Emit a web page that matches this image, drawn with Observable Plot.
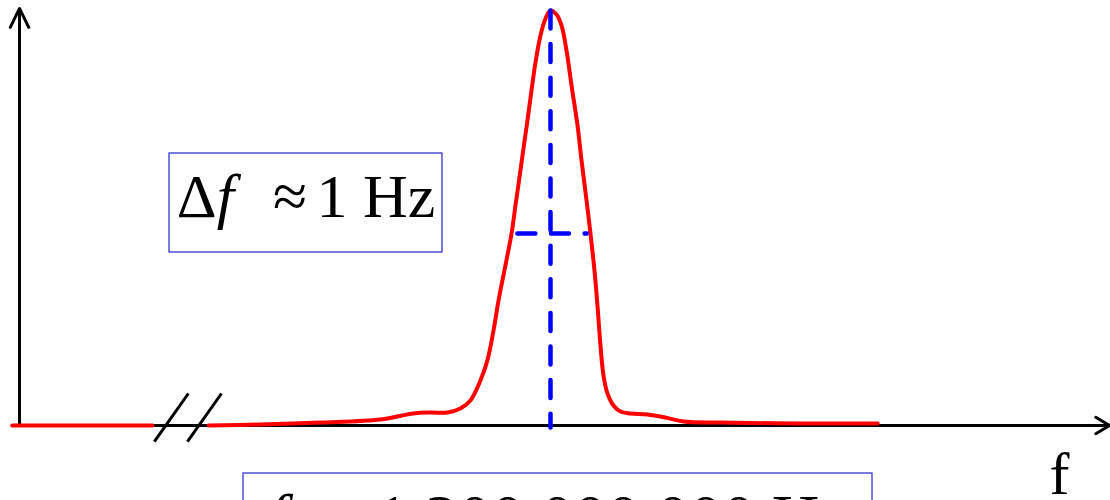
<!DOCTYPE html>
<html>
<head>
<meta charset="utf-8">
<script src="https://cdn.jsdelivr.net/npm/d3@7"></script>
<script src="https://cdn.jsdelivr.net/npm/@observablehq/plot@0.6"></script>
<style>
  html, body { margin: 0; padding: 0; background: #fff; overflow: hidden; }
  #chart svg { display: block; }
</style>
</head>
<body>
<div id="chart"></div>
<script>
// Frequency offset from f0 (Hz) and relative spectral power (peak = 1)
const offsetHz = [-4.44, -3.77, -2.99, -2.21, -1.78, -1.56, -1.34, -1.17, -1.04, -0.91, -0.82, -0.74, -0.675, -0.506, -0.455, -0.403, -0.351, -0.299, -0.247, -0.195, -0.13, -0.065, 0.0, 0.078, 0.143, 0.208, 0.273, 0.351, 0.403, 0.468, 0.519, 0.571, 0.61, 0.649, 0.688, 0.74, 0.818, 0.909, 1.039, 1.26, 1.49, 1.73, 2.21, 3.25, 4.25];
const power    = [0.0, 0.0024, 0.0072, 0.0145, 0.0289, 0.0313, 0.0313, 0.041, 0.0602, 0.1084, 0.1566, 0.2289, 0.3012, 0.4627, 0.5301, 0.5976, 0.6675, 0.7349, 0.8072, 0.8747, 0.9398, 0.9807, 1.0, 0.9904, 0.9639, 0.9036, 0.8193, 0.7229, 0.6386, 0.5422, 0.4627, 0.3735, 0.2892, 0.1928, 0.1205, 0.0771, 0.0482, 0.0337, 0.0289, 0.0265, 0.0193, 0.0096, 0.0072, 0.0048, 0.0048];
// Segment drawn left of the axis break
const leftOffsetHz = [-6.99, -5.17];
const leftPower = [0, 0];
// Axis break marks (Hz)
const breakHz = [-5.0, -4.57];
// Half-maximum width markers
const halfLevel = 0.4627;
const halfLo = -0.43, halfHi = 0.47;
// Axis extents
const fMin = -6.99, fMax = 7.26, fAxis = -6.896, pMax = 1.005;
// Labels
const widthLabel = "Δf  ≈ 1 Hz";
const centerLabel = "f0 = 1 200 000 000 Hz";
const axisLabel = "f";

const main = offsetHz.map((f, i) => ({f, p: power[i]}));
const left = leftOffsetHz.map((f, i) => ({f, p: leftPower[i]}));

const serif = "Liberation Serif, Times New Roman, serif";

const plot = Plot.plot({
  width: 1110,
  height: 500,
  marginTop: 10,
  marginBottom: 75,
  marginLeft: 0,
  marginRight: 0,
  x: {domain: [-550 / 77, 560 / 77], axis: null},
  y: {domain: [0, 1], axis: null},
  marks: [
    Plot.rect([{}], {x1: -4.948, x2: -1.403, y1: 0.4169, y2: 0.6554, fill: "none", stroke: "#3535d0", strokeWidth: 1.3}),
    Plot.rect([{}], {x1: -3.987, x2: 4.182, y1: -0.33, y2: -0.1157, fill: "none", stroke: "#3535d0", strokeWidth: 1.3}),
    Plot.arrow([{}], {x1: fMin, x2: fMax, y1: 0, y2: 0, stroke: "black", strokeWidth: 3, headLength: 8, headAngle: 62}),
    Plot.arrow([{}], {x1: fAxis, x2: fAxis, y1: 0, y2: pMax, stroke: "black", strokeWidth: 3, headLength: 10.5, headAngle: 52}),
    Plot.link(breakHz, {x1: d => d - 0.145, x2: d => d + 0.297, y1: -0.0386, y2: 0.0771, stroke: "black", strokeWidth: 3}),
    Plot.line(left, {x: "f", y: "p", stroke: "#ff0000", strokeWidth: 4}),
    Plot.line(main, {x: "f", y: "p", stroke: "#ff0000", strokeWidth: 4, curve: "catmull-rom"}),
    Plot.line([{f: 0, p: 1}, {f: 0, p: -0.005}], {x: "f", y: "p", stroke: "#0000ff", strokeWidth: 4.5, strokeDasharray: "18,15.6", strokeLinecap: "round"}),
    Plot.line([{f: halfLo, p: halfLevel}, {f: halfHi, p: halfLevel}], {x: "f", y: "p", stroke: "#0000ff", strokeWidth: 4.5, strokeDasharray: "18,15.6", strokeLinecap: "round"}),
    Plot.text([widthLabel], {x: -3.175, y: 0.5036, text: d => d, fontSize: 62, fontFamily: serif, fill: "black", textAnchor: "middle", lineAnchor: "bottom"}),
    Plot.text([centerLabel], {x: 0.097, y: -0.277, text: d => d, fontSize: 66, fontFamily: serif, fill: "black", textAnchor: "middle", lineAnchor: "bottom"}),
    Plot.text([axisLabel], {x: 6.48, y: -0.1639, text: d => d, fontSize: 60, fontFamily: serif, fill: "black", textAnchor: "start", lineAnchor: "bottom"})
  ]
});
document.getElementById("chart").appendChild(plot);

// Mixed-style math text: italic f, subscript 0
for (const t of plot.querySelectorAll("text")) {
  if (t.textContent === widthLabel) {
    t.innerHTML = 'Δ<tspan font-style="italic">f</tspan><tspan dx="8">  ≈</tspan><tspan dx="-6"> 1 Hz</tspan>';
  } else if (t.textContent === centerLabel) {
    t.innerHTML = '<tspan font-style="italic">f</tspan><tspan font-size="40" dy="12">0</tspan><tspan dy="-12"> = 1 200 000 000 Hz</tspan>';
  }
}
</script>
</body>
</html>
